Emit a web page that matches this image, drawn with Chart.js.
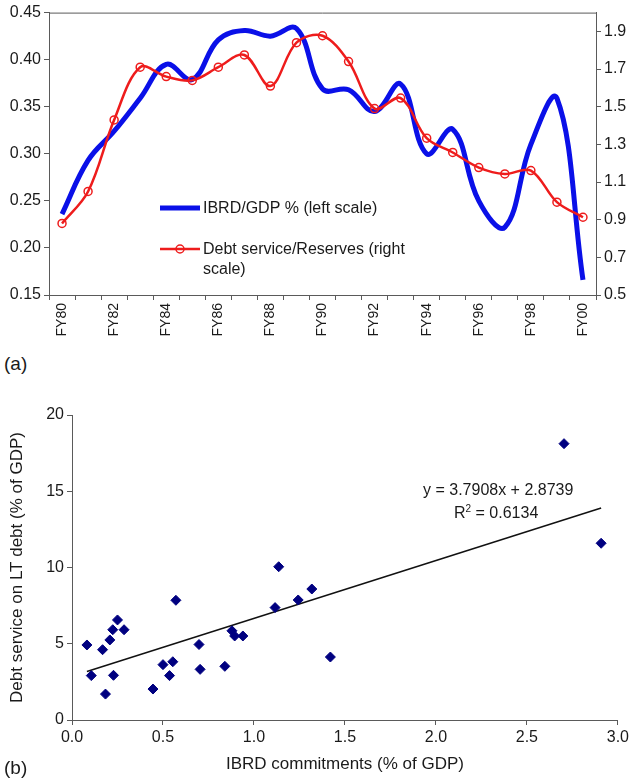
<!DOCTYPE html>
<html>
<head>
<meta charset="utf-8">
<script src="https://cdn.jsdelivr.net/npm/chart.js@4.4.1/dist/chart.umd.min.js"></script>
<style>
  body { margin: 0; background: #fff; font-family: "Liberation Sans", Arial, sans-serif; color: #1a1a1a; }
  #wrap { position: relative; width: 632px; height: 779px; overflow: hidden; }
  #topBox { position: absolute; left: 0; top: 0; width: 632px; height: 345px; }
  #botBox { position: absolute; left: 0; top: 380px; width: 632px; height: 399px; }
  .lbl { position: absolute; font-size: 19px; }
  .eq { position: absolute; font-size: 16px; white-space: nowrap; }
  .eq sup { font-size: 10px; }
</style>
</head>
<body>
<div id="wrap">
  <div id="topBox"><canvas id="lineChart"></canvas></div>
  <div id="botBox"><canvas id="scatterChart"></canvas></div>
  <div class="lbl" style="left:4px; top:353px;">(a)</div>
  <div class="lbl" style="left:4px; top:757px;">(b)</div>
  <div class="eq" style="left:423px; top:481px;">y = 3.7908x + 2.8739</div>
  <div class="eq" style="left:454px; top:503px;">R<sup>2</sup> = 0.6134</div>
</div>
<script>
// panel (a)
const years = ["FY80", "FY81", "FY82", "FY83", "FY84", "FY85", "FY86", "FY87", "FY88", "FY89", "FY90",
               "FY91", "FY92", "FY93", "FY94", "FY95", "FY96", "FY97", "FY98", "FY99", "FY00"];
const ibrdGdp = [0.236, 0.293, 0.324, 0.359, 0.395, 0.379, 0.421, 0.431, 0.425, 0.433, 0.369,
                 0.368, 0.345, 0.374, 0.300, 0.326, 0.250, 0.222, 0.310, 0.359, 0.166];
const debtReserves = [0.88, 1.05, 1.43, 1.71, 1.66, 1.64, 1.71, 1.775, 1.61, 1.84, 1.877,
                      1.74, 1.49, 1.546, 1.333, 1.257, 1.177, 1.143, 1.161, 0.993, 0.913];
const leftTicks = [0.15, 0.20, 0.25, 0.30, 0.35, 0.40, 0.45];
const rightTicks = [0.5, 0.7, 0.9, 1.1, 1.3, 1.5, 1.7, 1.9];

// panel (b)
const commitX = [0.082, 0.106, 0.168, 0.184, 0.208, 0.224, 0.228, 0.25, 0.286, 0.445, 0.50, 0.536, 0.554, 0.571,
                 0.698, 0.704, 0.840, 0.879, 0.894, 0.939, 1.116, 1.136, 1.243, 1.318, 1.420, 2.704, 2.908];
const debtY = [4.92, 2.91, 4.61, 1.70, 5.25, 5.92, 2.93, 6.56, 5.92, 2.03, 3.63, 2.91, 3.82, 7.85,
               4.95, 3.32, 3.52, 5.85, 5.51, 5.51, 7.37, 10.05, 7.87, 8.59, 4.13, 18.12, 11.59];
const xTicks = [0, 0.5, 1.0, 1.5, 2.0, 2.5, 3.0];
const yTicks = [0, 5, 10, 15, 20];
const trendSlope = 3.7908;
const trendIntercept = 2.8739;

const axisColor = "#5a5a5a";
const textColor = "#1a1a1a";
const blue = "#0a10e8";
const red = "#ee1c1c";
const fontFamily = "'Liberation Sans', Arial, sans-serif";

Chart.defaults.font.family = fontFamily;
Chart.defaults.color = textColor;

// top border of the plot frame + legend drawn inside plot
const framePlugin = {
    id: "frameTop",
    afterDraw(chart) {
        const a = chart.chartArea;
        const ctx = chart.ctx;
        ctx.save();
        ctx.strokeStyle = axisColor;
        ctx.lineWidth = 1;
        ctx.beginPath();
        ctx.moveTo(a.left, a.top + 0.5);
        ctx.lineTo(a.right, a.top + 0.5);
        ctx.stroke();

        // legend
        const lx = a.left + 111;
        const tx = lx + 43;
        ctx.font = "16px " + fontFamily;
        ctx.fillStyle = textColor;
        ctx.textBaseline = "middle";
        const ds = chart.data.datasets;

        ctx.strokeStyle = blue;
        ctx.lineWidth = 5;
        ctx.beginPath();
        ctx.moveTo(lx, 208);
        ctx.lineTo(lx + 40, 208);
        ctx.stroke();
        ctx.fillText(ds[1].label, tx, 209);

        ctx.strokeStyle = red;
        ctx.lineWidth = 2.5;
        ctx.beginPath();
        ctx.moveTo(lx, 249);
        ctx.lineTo(lx + 40, 249);
        ctx.stroke();
        ctx.lineWidth = 1.5;
        ctx.beginPath();
        ctx.arc(lx + 20, 249, 4, 0, Math.PI * 2);
        ctx.stroke();

        // wrap the second label
        const words = ds[0].label.split(" ");
        let line = "", y = 250;
        words.forEach(w => {
            const test = line ? line + " " + w : w;
            if (ctx.measureText(test).width > 205 && line) {
                ctx.fillText(line, tx, y);
                line = w;
                y += 20;
            } else {
                line = test;
            }
        });
        ctx.fillText(line, tx, y);
        ctx.restore();
    }
};

new Chart(document.getElementById("lineChart"), {
    type: "line",
    data: {
        labels: years,
        datasets: [
            {
                label: "Debt service/Reserves (right scale)",
                data: debtReserves,
                yAxisID: "y2",
                borderColor: red,
                borderWidth: 2.5,
                tension: 0.35,
                pointRadius: 4,
                pointBorderWidth: 1.5,
                pointBorderColor: red,
                pointBackgroundColor: "rgba(255,255,255,0)",
                order: 0
            },
            {
                label: "IBRD/GDP % (left scale)",
                data: ibrdGdp,
                yAxisID: "y",
                borderColor: blue,
                borderWidth: 5,
                tension: 0.4,
                pointRadius: 0,
                order: 1
            }
        ]
    },
    options: {
        responsive: true,
        maintainAspectRatio: false,
        animation: false,
        layout: { padding: { top: 11, left: 0, right: 0, bottom: 0 } },
        plugins: {
            legend: { display: false },
            tooltip: { enabled: false }
        },
        scales: {
            x: {
                offset: true,
                afterFit: s => { s.height = 50; },
                grid: { offset: true, drawOnChartArea: false, tickLength: 5, color: axisColor },
                border: { color: axisColor },
                ticks: {
                    autoSkip: false,
                    maxRotation: 90,
                    minRotation: 90,
                    padding: 3,
                    font: { size: 14 },
                    callback: function (v, i) { return i % 2 === 0 ? this.getLabelForValue(v) : ""; }
                }
            },
            y: {
                position: "left",
                min: 0.15,
                max: 0.45,
                afterFit: s => { s.width = 49; },
                afterBuildTicks: s => { s.ticks = leftTicks.map(v => ({ value: v })); },
                grid: { drawOnChartArea: false, tickLength: 5, color: axisColor },
                border: { color: axisColor },
                ticks: { padding: 3, font: { size: 16 }, callback: v => v.toFixed(2) }
            },
            y2: {
                position: "right",
                min: 0.5,
                max: 2.0,
                afterFit: s => { s.width = 36; },
                afterBuildTicks: s => { s.ticks = rightTicks.map(v => ({ value: v })); },
                grid: { drawOnChartArea: false, tickLength: 5, color: axisColor },
                border: { color: axisColor },
                ticks: { padding: 3, font: { size: 16 }, callback: v => v.toFixed(1) }
            }
        }
    },
    plugins: [framePlugin]
});

const xMin = Math.min(...commitX);
const xMax = Math.max(...commitX);

new Chart(document.getElementById("scatterChart"), {
    type: "scatter",
    data: {
        datasets: [
            {
                label: "countries",
                data: commitX.map((x, i) => ({ x: x, y: debtY[i] })),
                pointStyle: "rectRot",
                pointRadius: 5,
                backgroundColor: "#000080",
                borderColor: "#000080",
                borderWidth: 1
            },
            {
                label: "trend",
                type: "line",
                data: [
                    { x: xMin, y: trendSlope * xMin + trendIntercept },
                    { x: xMax, y: trendSlope * xMax + trendIntercept }
                ],
                borderColor: "#111",
                borderWidth: 1.5,
                pointRadius: 0
            }
        ]
    },
    options: {
        responsive: true,
        maintainAspectRatio: false,
        animation: false,
        layout: { padding: { top: 35, right: 12, left: 0, bottom: 0 } },
        plugins: {
            legend: { display: false },
            tooltip: { enabled: false }
        },
        scales: {
            x: {
                type: "linear",
                min: 0,
                max: 3,
                afterFit: s => { s.height = 59; },
                afterBuildTicks: s => { s.ticks = xTicks.map(v => ({ value: v })); },
                grid: { drawOnChartArea: false, tickLength: 5, color: axisColor },
                border: { color: axisColor },
                ticks: { padding: 3, font: { size: 16 }, callback: v => v.toFixed(1) },
                title: {
                    display: true,
                    text: "IBRD commitments (% of GDP)",
                    font: { size: 17 },
                    padding: { top: 4, bottom: 4 }
                }
            },
            y: {
                min: 0,
                max: 20,
                afterFit: s => { s.width = 72; },
                afterBuildTicks: s => { s.ticks = yTicks.map(v => ({ value: v })); },
                grid: { drawOnChartArea: false, tickLength: 5, color: axisColor },
                border: { color: axisColor },
                ticks: { padding: 3, font: { size: 16 } },
                title: {
                    display: true,
                    text: "Debt service on LT debt (% of GDP)",
                    font: { size: 17 },
                    padding: { top: 7, bottom: 4 }
                }
            }
        }
    }
});
</script>
</body>
</html>
